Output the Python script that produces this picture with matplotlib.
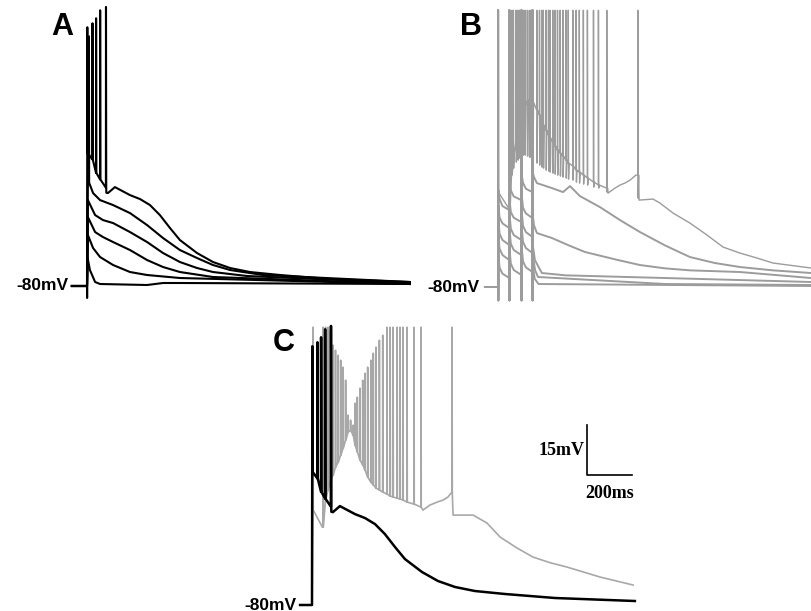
import matplotlib
matplotlib.use("Agg")
import matplotlib.pyplot as plt
import numpy as np

# pixel scale of the original figure
PX_MS = 0.225   # px per ms
PX_MV = 3.33    # px per mV
W, H = 811, 611

# ---------------- panel A (black, 6 traces) ----------------
# top trace (also the black trace in C)
a1_t = [-67, 0, 86, 93, 124, 191, 236, 280, 324, 369, 413, 489, 560, 636, 724, 858, 1080, 1435]
a1_v = [-80, -80, -52.0, -52.1, -50.3, -52.7, -53.9, -55.7, -58.7, -62.6, -66.2, -70.1, -72.8, -74.6, -75.8, -76.7, -77.9, -78.8]
a1_spk_t = [1, 24, 40, 58, 84]
a1_spk_peak = [-2.3, -1.1, 0.4, 2.8, 3.8]
a1_spk_base = [-40.0, -42.0, -46.0, -48.0, -50.5]

a2_t = [-67, 0, 4, 27, 58, 116, 191, 267, 338, 413, 489, 560, 636, 782, 1435]
a2_v = [-80, -80, -48.2, -52.1, -54.2, -55.7, -58.1, -61.7, -65.6, -69.2, -71.6, -73.7, -75.2, -76.7, -78.8]
a2_spk_t = [8]
a2_spk_peak = [-5.0]
a2_spk_base = [-49.0]

a3_t = [-67, 0, 4, 36, 71, 116, 191, 267, 338, 413, 489, 560, 711, 1435]
a3_v = [-80, -80, -54.2, -58.7, -60.2, -61.1, -63.8, -66.8, -70.1, -72.8, -74.6, -75.8, -77.0, -79.1]
a4_t = [-67, 0, 4, 36, 71, 116, 191, 267, 338, 413, 560, 1435]
a4_v = [-80, -80, -59.3, -63.8, -65.3, -66.8, -69.2, -72.2, -74.3, -75.8, -77.3, -79.4]
a5_t = [-67, 0, 4, 27, 58, 116, 191, 267, 413, 1435]
a5_v = [-80, -80, -64.7, -68.6, -71.3, -73.7, -75.8, -76.7, -77.6, -79.4]
a6_t = [-67, 0, 0.5, 2, 13, 36, 58, 267, 338, 413, 1435]
a6_v = [-80, -80, -83.6, -71.3, -75.2, -78.8, -79.4, -79.7, -79.1, -79.1, -79.4]

# ---------------- panel B (grey, 6 traces) ----------------
b_shared_spk = [0, 50, 104, 153]
b_peak = 3.1
b_undershoot = -84.0

b1_t = [-58, 0, 1.5, 50, 489, 520, 542, 564, 587, 613, 627, 689, 720, 778, 853, 929, 1000, 1075, 1151, 1222, 1391]
b1_v = [-80, -80, -51.5, -56.6, -51.8, -50.3, -49.4, -48.8, -47.9, -46.4, -53.9, -53.6, -54.8, -57.8, -60.8, -64.4, -68.0, -69.8, -71.3, -72.8, -74.3]
b1_spk_t = [50, 61, 68, 80, 88, 95, 105, 112, 120, 130, 139, 147, 154, 172, 184, 194, 201, 213,
            224, 231, 243, 253, 264, 276, 288, 302, 312, 332, 347, 361, 379, 397, 424, 446, 483, 621]
# level between spikes
b1_spk_plat = [-56.6, -44.9, -40.4, -35.9, -32.9, -31.4, -28.4, -26.9, -25.4, -23.9, -23.9, -23.9,
               -24.5, -26.9, -28.4, -29.9, -31.4, -32.9, -34.4, -35.3, -36.5, -37.7, -38.9, -39.8,
               -40.7, -41.9, -42.8, -43.7, -44.9, -45.5, -46.4, -47.3, -48.5, -49.4, -50.3, -46.4]
# after-hyperpolarisation tip of each spike
b1_spk_tip = [-56.6, -46.4, -44.3, -42.5, -41.9, -41.3, -40.7, -40.4, -40.4, -40.7, -41.0, -41.3,
              -41.9, -42.8, -43.4, -44.0, -44.3, -44.9, -45.2, -45.5, -45.8, -46.1, -46.4, -46.7,
              -47.0, -47.3, -47.6, -47.9, -48.5, -48.8, -49.1, -49.4, -50.0, -50.3, -51.5, -53.3]

b2_t = [-58, 0, 1.5, 7, 20, 50, 51.5, 57, 70, 104, 105.5, 111, 124, 153, 154.5, 160, 173, 240, 289, 320, 364,
        453, 542, 631, 742, 853, 964, 1075, 1222, 1391]
b2_v = [-80, -80, -50.9, -53.6, -55.7, -56.9, -48.5, -51.0, -52.8, -53.9, -46.4, -48.7, -50.5, -51.5, -45.5,
        -47.0, -48.8, -50.3, -51.5, -49.7, -52.7, -56.0, -59.9, -63.5, -67.5, -71.0, -72.8, -74.0, -75.0, -75.8]
b3_t = [-58, 0, 1.5, 7, 20, 50, 51.5, 57, 70, 104, 105.5, 111, 124, 153, 154.5, 160, 173, 240, 311, 387,
        533, 631, 742, 853, 1075, 1391]
b3_v = [-80, -80, -55.4, -59.2, -60.9, -62.3, -53.9, -57.5, -59.2, -60.5, -52.4, -56.2, -57.9, -59.3, -58.4,
        -61.5, -63.8, -65.3, -67.4, -69.5, -71.9, -73.4, -74.4, -75.0, -75.5, -77.3]
b4_t = [-58, 0, 1.5, 7, 20, 50, 51.5, 57, 70, 104, 105.5, 111, 124, 153, 154.5, 164, 195, 300, 742, 1391]
b4_v = [-80, -80, -59.9, -64.0, -65.9, -67.4, -58.4, -62.5, -64.4, -65.9, -57.5, -61.6, -63.5, -65.0, -67.4,
        -71.9, -75.8, -76.5, -77.3, -78.5]
b5_t = [-58, 0, 1.5, 7, 20, 50, 51.5, 57, 70, 104, 105.5, 111, 124, 153, 154.5, 165, 178, 742, 1391]
b5_v = [-80, -80, -64.4, -68.5, -70.4, -71.9, -62.9, -67.0, -68.9, -70.4, -62.3, -66.4, -68.3, -69.8, -70.4,
        -75.0, -77.0, -79.1, -79.4]
b6_t = [-58, 0, 1.5, 7, 20, 50, 51.5, 57, 70, 104, 105.5, 111, 124, 153, 154.5, 163, 180, 1391]
b6_v = [-80, -80, -70.4, -74.2, -76.0, -77.3, -68.9, -73.0, -74.9, -76.4, -68.3, -72.3, -74.1, -75.5, -73.4,
        -77.5, -79.1, -79.7]

# ---------------- panel C (grey trace; black = A top trace) ----------------
c2_t = [-53, 0, 5.5, 46, 493, 524, 556, 582, 604, 618, 627, 716, 778, 836, 909, 982, 1058, 1133, 1280, 1427]
c2_v = [-80, -80, -51.5, -56.6, -51.5, -50.0, -49.1, -48.5, -47.6, -46.4, -53.0, -53.0, -55.4, -59.6, -62.8,
        -65.6, -67.3, -68.6, -71.6, -74.0]
c2_spk_t = [4, 49, 60, 71, 82, 93, 104, 116, 127, 138, 149, 160, 171, 182, 191, 201, 213, 225, 235,
            247, 261, 272, 284, 299, 314, 333, 347, 360, 378, 391, 404, 422, 453, 484, 622]
c2_spk_peak = [3.4, 3.4, 3.4, 3.4, 2.5, -2.0, -3.5, -5.0, -6.5, -8.6, -12.5, -23.0, -24.5, -26.0,
               -19.4, -17.6, -14.9, -12.5, -10.4, -8.6, -6.5, -4.4, -2.6, -0.5, 1.0,
               3.4, 3.4, 3.4, 3.4, 3.4, 3.4, 3.4, 3.4, 3.4, 3.4]
c2_spk_base = [-51.5, -56.6, -48.5, -45.5, -42.5, -41.0, -38.6, -37.1, -35.0, -32.9, -30.5, -28.1,
               -27.5, -29.0, -32.0, -34.1, -36.5, -38.0, -39.5, -41.6, -43.1, -44.0, -44.9, -45.5,
               -46.1, -46.7, -47.3, -47.6, -47.9, -48.2, -48.5, -49.1, -49.7, -50.6, -46.4]

scale_mv = 15
scale_ms = 200


def add_spikes(t, v, spk_t, peaks, bases, width=1.5):
    # each spike: base -> peak -> back to base
    tt = list(t)
    vv = list(v)
    for ts, pk, b in zip(spk_t, peaks, bases):
        tt += [ts, ts + 0.4, ts + width]
        vv += [b, pk, b]
    order = np.argsort(tt, kind="stable")
    return np.array(tt)[order], np.array(vv)[order]


def add_ahp_spikes(t, v, spk_t, peak, plats, tips):
    # spike from plateau -> peak -> AHP tip -> back to plateau
    tt = list(t)
    vv = list(v)
    for ts, pl, tp in zip(spk_t, plats, tips):
        tt += [ts, ts + 0.4, ts + 1.5, ts + 4.0]
        vv += [pl, peak, tp, pl]
    order = np.argsort(tt, kind="stable")
    return np.array(tt)[order], np.array(vv)[order]


def add_shared(t, v, spk_t, peak, low):
    # spikes whose pre/post levels are already in the vertex list
    tt = list(t)
    vv = list(v)
    for ts in spk_t:
        tt += [ts + 0.3, ts + 1.0]
        vv += [peak, low]
    order = np.argsort(tt, kind="stable")
    return np.array(tt)[order], np.array(vv)[order]


def panel(fig, left, top, width, height, x0, y0):
    ax = fig.add_axes([left / W, 1 - (top + height) / H, width / W, height / H])
    ax.set_xlim((left - x0) / PX_MS, (left + width - x0) / PX_MS)
    ax.set_ylim(-80 - (top + height - y0) / PX_MV, -80 + (y0 - top) / PX_MV)
    ax.axis("off")
    return ax


fig = plt.figure(figsize=(W / 100, H / 100), dpi=100)
fig.patch.set_facecolor("white")

lab_font = dict(family="Liberation Sans", weight="bold")

# ---- A ----
axA = panel(fig, 0, 0, 415, 305, 87, 286)
for t, v in [(a6_t, a6_v), (a5_t, a5_v), (a4_t, a4_v), (a3_t, a3_v)]:
    axA.plot(t, v, color="black", lw=1.5)
t, v = add_spikes(a2_t, a2_v, a2_spk_t, a2_spk_peak, a2_spk_base)
axA.plot(t, v, color="black", lw=1.5)
t, v = add_spikes(a1_t, a1_v, a1_spk_t, a1_spk_peak, a1_spk_base)
axA.plot(t, v, color="black", lw=1.5)
axA.text(-111, -2.2, "A", fontsize=22, ha="center", va="center", **lab_font)
axA.text(-82, -80, "-80mV", fontsize=12.5, ha="right", va="center", **lab_font)

# ---- B ----
axB = panel(fig, 415, 0, 396, 305, 498, 287)
grey_b = "#9c9c9c"
for t, v in [(b6_t, b6_v), (b5_t, b5_v), (b4_t, b4_v), (b3_t, b3_v), (b2_t, b2_v)]:
    t2, v2 = add_shared(t, v, b_shared_spk, b_peak, b_undershoot)
    axB.plot(t2, v2, color=grey_b, lw=1.4)
t, v = add_shared(b1_t, b1_v, [0], b_peak, b_undershoot)
t, v = add_ahp_spikes(t, v, b1_spk_t, b_peak, b1_spk_plat, b1_spk_tip)
axB.plot(t, v, color=grey_b, lw=1.0)
axB.text(-120, -1.9, "B", fontsize=22, ha="center", va="center", **lab_font)
axB.text(-80, -80, "-80mV", fontsize=12.5, ha="right", va="center", **lab_font)

# ---- C ----
axC = panel(fig, 240, 305, 420, 306, 312, 605)
t, v = add_spikes(c2_t, c2_v, c2_spk_t, c2_spk_peak, c2_spk_base)
axC.plot(t, v, color="#a8a8a8", lw=1.2)
t, v = add_spikes([-53] + a1_t[1:], a1_v, a1_spk_t, a1_spk_peak, a1_spk_base)
axC.plot(t, v, color="black", lw=1.8)
axC.text(-124, -1.3, "C", fontsize=22, ha="center", va="center", **lab_font)
axC.text(-70, -80, "-80mV", fontsize=12.5, ha="right", va="center", **lab_font)

# scale bar
sx, sy = 1224, -41
axC.plot([sx, sx, sx + scale_ms], [sy + scale_mv, sy, sy], color="black", lw=1.2)
axC.text(sx - 12, sy + scale_mv / 2, f"{scale_mv}mV", fontsize=13, ha="right", va="center",
         family="Liberation Serif", weight="bold")
axC.text(sx + scale_ms / 2, sy - 5.5, f"{scale_ms}ms", fontsize=13, ha="center", va="center",
         family="Liberation Serif", weight="bold")

fig.savefig("out.png", dpi=100)
